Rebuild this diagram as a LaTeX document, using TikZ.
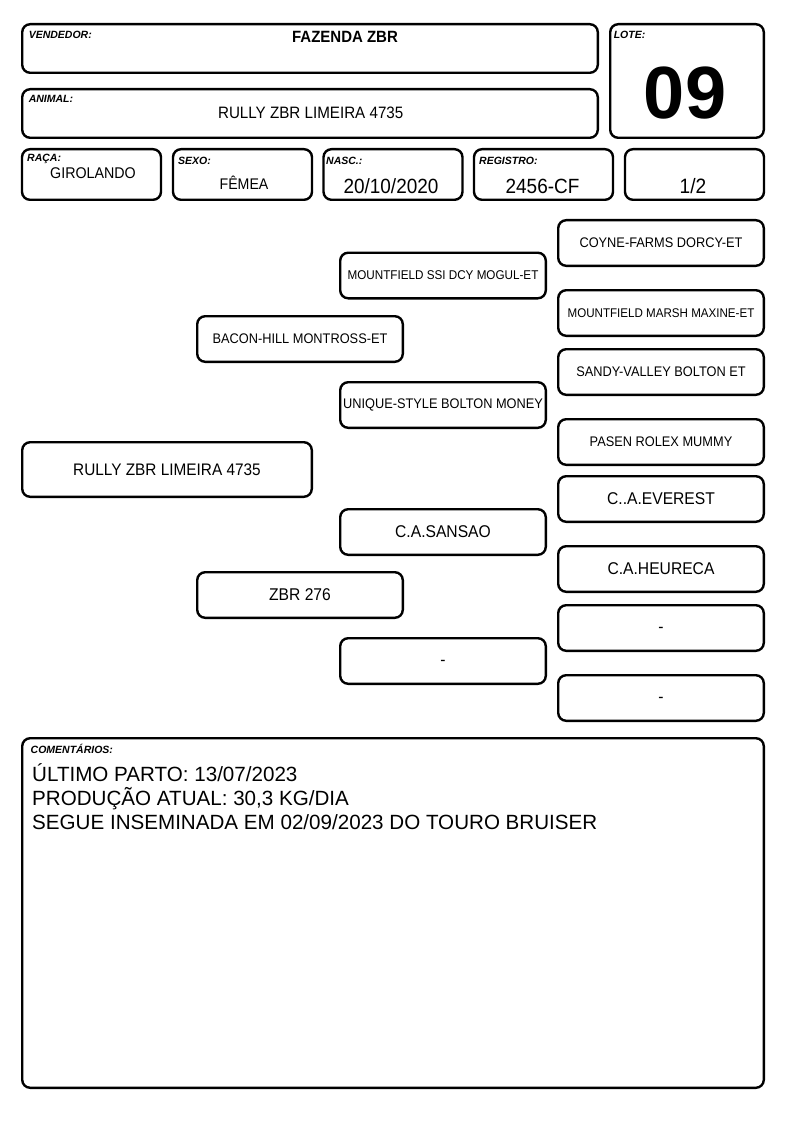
\documentclass[tikz,border=0pt]{standalone}
\usepackage{fontspec}
\setmainfont{Liberation Sans}
\newfontfamily\narrowsans[FakeStretch=0.92]{Liberation Sans}
\usepackage{tikz}
\usetikzlibrary{positioning}
\newcommand{\fsz}[1]{\fontsize{#1}{#1}\selectfont}
\tikzset{
	cell/.style={
		rectangle,
		rounded corners=8pt,
		draw=black,
		line width=2.4pt,
		inner sep=0pt,
		text centered
	},
	header/.style={
		cell,
		minimum width=575.6pt,
		minimum height=48.6pt
	},
	info/.style={
		cell,
		minimum width=139pt,
		minimum height=50.6pt
	},
	pedigree/.style={
		cell,
		minimum width=205.6pt,
		minimum height=45.6pt,
		font=\narrowsans\fsz{13.9}
	},
	big/.style={font=\narrowsans\fsz{17}},
	blank/.style={pedigree, big, text height=8.6pt, text depth=0pt},
	tag/.style={anchor=base west, inner sep=0pt, font=\fsz{10.5}\bfseries\itshape},
	value/.style={anchor=base, inner sep=0pt}
}

\begin{document}
\begin{tikzpicture}[x=1pt, y=-1pt]
	\useasboundingbox (0,0) rectangle (794,1123);
	% Header
	\node (vendedor) [header] at (310,48.5) {};
	\node (animal) [header] at (310,113.5) {};
	\node (lote) [cell, minimum width=153.6pt, minimum height=113.6pt] at (687,81) {};
	\node [tag] at (28.6,39) {VENDEDOR:};
	\node [tag] at (28.6,103) {ANIMAL:};
	\node [tag] at (613.6,39) {LOTE:};
	\node (vendedorNome) [value, font=\narrowsans\fsz{16.3}\bfseries] at (345,43) {FAZENDA ZBR};
	\node (animalNome) [value, font=\narrowsans\fsz{16.5}] at (310.7,119) {RULLY ZBR LIMEIRA 4735};
	\node (loteNum) [value, font=\fsz{74}\bfseries] at (685,119) {09};
	
	% Info row
	\node (raca) [info] at (91.5,174.5) {};
	\node (sexo) [info] at (242.5,174.5) {};
	\node (nasc) [info] at (393,174.5) {};
	\node (registro) [info] at (543.5,174.5) {};
	\node (fracao) [info] at (694.5,174.5) {};
	\node [tag] at (27,162) {RAÇA:};
	\node [tag] at (178,165) {SEXO:};
	\node [tag] at (326,165) {NASC.:};
	\node [tag] at (479,165) {REGISTRO:};
	\node (racaNome) [value, font=\narrowsans\fsz{15.5}] at (93,178.3) {GIROLANDO};
	\node (sexoNome) [value, font=\narrowsans\fsz{15.4}] at (244,189.3) {FÊMEA};
	\node (nascData) [value, font=\narrowsans\fsz{20.6}] at (391,193.3) {20/10/2020};
	\node (registroNum) [value, font=\narrowsans\fsz{20.6}] at (542.5,193.3) {2456-CF};
	\node (fracaoNum) [value, font=\narrowsans\fsz{20.8}] at (693,193.3) {1/2};
	
	% Pedigree
	\node (animalPed) [cell, minimum width=289.6pt, minimum height=54.6pt, font=\narrowsans\fsz{16.7}] at (167,469.5) {RULLY ZBR LIMEIRA 4735};
	\node (pai) [pedigree] at (300,339) {BACON-HILL MONTROSS-ET};
	\node (mae) [pedigree, big] at (300,595) {ZBR 276};
	\node (avoPP) [pedigree, font=\narrowsans\fsz{12.7}] at (443,275.5) {MOUNTFIELD SSI DCY MOGUL-ET};
	\node (avoPM) [pedigree] at (443,405) {UNIQUE-STYLE BOLTON MONEY};
	\node (avoMP) [pedigree, big] at (443,532) {C.A.SANSAO};
	\node (avoMM) [blank] at (443,661) {-};
	\node (bisavo1) [pedigree] at (661,243) {COYNE-FARMS DORCY-ET};
	\node (bisavo2) [pedigree, font=\narrowsans\fsz{12.6}] at (661,313) {MOUNTFIELD MARSH MAXINE-ET};
	\node (bisavo3) [pedigree] at (661,372) {SANDY-VALLEY BOLTON ET};
	\node (bisavo4) [pedigree] at (661,442) {PASEN ROLEX MUMMY};
	\node (bisavo5) [pedigree, big] at (661,499) {C..A.EVEREST};
	\node (bisavo6) [pedigree, big] at (661,569) {C.A.HEURECA};
	\node (bisavo7) [blank] at (661,628) {-};
	\node (bisavo8) [blank] at (661,698) {-};
	
	% Comments
	\node (comentarios) [cell, minimum width=741.6pt, minimum height=349.6pt] at (393,913) {};
	\node [tag] at (30.5,753) {COMENTÁRIOS:};
	\node (linha1) [tag, font=\fsz{20.6}] at (32,781) {ÚLTIMO PARTO: 13/07/2023};
	\node (linha2) [tag, font=\fsz{20.6}] at (32,805) {PRODUÇÃO ATUAL: 30,3 KG/DIA};
	\node (linha3) [tag, font=\fsz{20.6}] at (32,829) {SEGUE INSEMINADA EM 02/09/2023 DO TOURO BRUISER};
\end{tikzpicture}
\end{document}
